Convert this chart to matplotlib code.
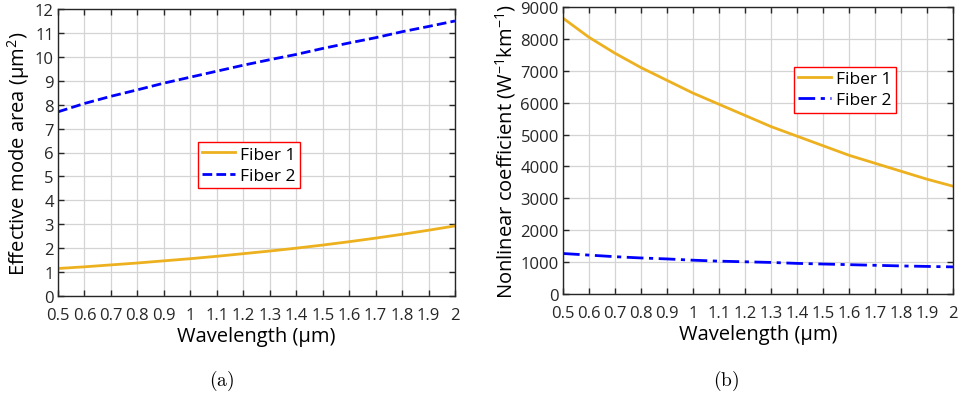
import matplotlib
matplotlib.use("Agg")
import matplotlib.pyplot as plt
import numpy as np

plt.rcParams['font.family'] = ['Open Sans', 'DejaVu Sans']
plt.rcParams['mathtext.fontset'] = 'custom'
plt.rcParams['mathtext.rm'] = 'Open Sans'
plt.rcParams['mathtext.it'] = 'Open Sans:italic'
plt.rcParams['mathtext.bf'] = 'Open Sans:bold'

wavelength = [0.5, 0.6, 0.7, 0.8, 0.9, 1.0, 1.1, 1.2, 1.3, 1.4, 1.5, 1.6, 1.7, 1.8, 1.9, 2.0]
area_fiber1 = [1.15, 1.22, 1.30, 1.38, 1.47, 1.56, 1.66, 1.77, 1.88, 2.00, 2.13, 2.27, 2.42, 2.58, 2.75, 2.93]
area_fiber2 = [7.70, 8.05, 8.35, 8.62, 8.90, 9.15, 9.40, 9.65, 9.88, 10.10, 10.35, 10.58, 10.80, 11.05, 11.27, 11.50]
gamma_fiber1 = [8650, 8050, 7550, 7100, 6700, 6300, 5950, 5600, 5250, 4950, 4650, 4350, 4100, 3850, 3600, 3380]
gamma_fiber2 = [1270, 1220, 1170, 1130, 1100, 1060, 1030, 1010, 990, 960, 940, 920, 900, 880, 865, 850]
xtick_labels = ['0.5', '0.6', '0.7', '0.8', '0.9', '1', '1.1', '1.2', '1.3', '1.4', '1.5', '1.6', '1.7', '1.8', '1.9', '2']

orange = '#EDB120'
blue = '#0000FF'

fig = plt.figure(figsize=(9.62, 4.02), dpi=100)
W, H = 962, 402
ax1 = fig.add_axes([58 / W, 1 - 297 / H, (455 - 58) / W, (297 - 10) / H])
ax2 = fig.add_axes([563 / W, 1 - 295 / H, (953 - 563) / W, (295 - 8) / H])

def style(ax):
    ax.set_xlim(0.5, 2.0)
    ax.set_xticks(wavelength)
    ax.set_xticklabels(xtick_labels)
    ax.grid(True, color='#d4d4d4', linewidth=0.9)
    ax.tick_params(direction='in', top=True, right=True, labelsize=12, length=4, width=1, colors='#262626')
    ax.tick_params(axis='x', pad=8)
    ax.tick_params(axis='y', pad=3)
    for s in ax.spines.values():
        s.set_color('#262626')
        s.set_linewidth(1.0)
    ax.set_xlabel('Wavelength (μm)', fontsize=14.5, labelpad=2)

ax1.plot(wavelength, area_fiber1, color=orange, lw=2, label='Fiber 1')
ax1.plot(wavelength, area_fiber2, color=blue, lw=2, ls=(0, (3.5, 1.5)), label='Fiber 2')
style(ax1)
ax1.set_ylim(0, 12)
ax1.set_yticks(range(0, 13))
ax1.set_ylabel('Effective mode area (μm$^2$)', fontsize=14.5, labelpad=2)
leg1 = ax1.legend(loc='center', bbox_to_anchor=(0.481, 0.456), fontsize=12.5, fancybox=False,
                  edgecolor='red', framealpha=1, handlelength=1.9, borderpad=0.25,
                  handletextpad=0.3, labelspacing=0.3, borderaxespad=0)
leg1.get_frame().set_linewidth(1.0)

ax2.plot(wavelength, gamma_fiber1, color=orange, lw=2, label='Fiber 1')
ax2.plot(wavelength, gamma_fiber2, color=blue, lw=2, ls=(0, (6, 2, 1.5, 2)), label='Fiber 2')
style(ax2)
ax2.set_ylim(0, 9000)
ax2.set_yticks(range(0, 9001, 1000))
ax2.set_ylabel('Nonlinear coefficient (W$^{-1}$km$^{-1}$)', fontsize=14.5, labelpad=2)
leg2 = ax2.legend(loc='center', bbox_to_anchor=(0.723, 0.712), fontsize=12.5, fancybox=False,
                  edgecolor='red', framealpha=1, handlelength=1.9, borderpad=0.25,
                  handletextpad=0.3, labelspacing=0.3, borderaxespad=0)
leg2.get_frame().set_linewidth(1.0)

fig.text(222 / W, 1 - 381 / H, r'$\mathrm{(a)}$', ha='center', va='center', fontsize=14, math_fontfamily='cm')
fig.text(726 / W, 1 - 381 / H, r'$\mathrm{(b)}$', ha='center', va='center', fontsize=14, math_fontfamily='cm')

fig.savefig('out.png', dpi=100)
